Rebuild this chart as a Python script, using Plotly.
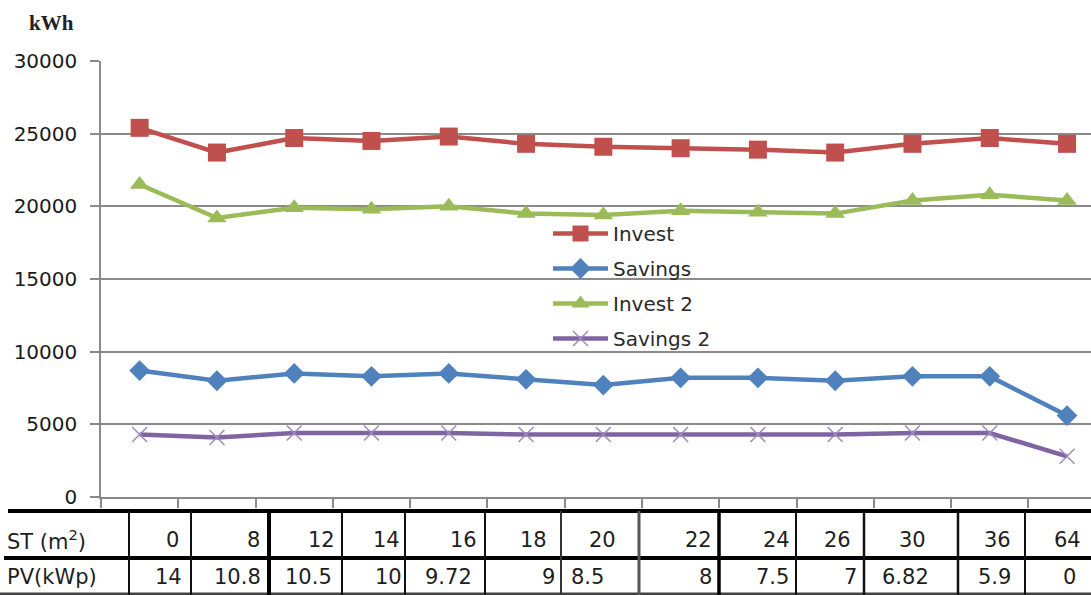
import plotly.graph_objects as go

# ---------------- data ----------------
st_labels = ["0", "8", "12", "14", "16", "18", "20", "22", "24", "26", "30", "36", "64"]
pv_labels = ["14", "10.8", "10.5", "10", "9.72", "9", "8.5", "8", "7.5", "7", "6.82", "5.9", "0"]

invest = [25400, 23700, 24700, 24500, 24800, 24300, 24100, 24000, 23900, 23700, 24300, 24700, 24300]
savings = [8700, 8000, 8500, 8300, 8500, 8100, 7700, 8200, 8200, 8000, 8300, 8300, 5600]
invest2 = [21500, 19200, 19900, 19800, 20000, 19500, 19400, 19700, 19600, 19500, 20400, 20800, 20400]
savings2 = [4300, 4100, 4400, 4400, 4400, 4300, 4300, 4300, 4300, 4300, 4400, 4400, 2800]

y_ticks = [0, 5000, 10000, 15000, 20000, 25000, 30000]
y_tick_text = ["0", "5000", "10000", "15000", "20000", "25000", "30000"]
row_titles = ["ST (m<sup>2</sup>)", "PV(kWp)"]

# ---------------- layout geometry (pixels) ----------------
FW, FH = 1091, 595
L, R, T, B = 101, 0, 61, 98
W, H = FW - L - R, FH - T - B


def px_x(px):
    return (px - L) / W


def px_y(py):
    return (FH - B - py) / H


# text centres of table cells (pixel positions)
st_text_x = [172, 253, 321, 386, 463, 533, 602, 698, 776, 837, 912, 997, 1067]
pv_text_x = [168, 237, 308, 388, 448, 548, 587, 705, 772, 850, 905, 994, 1069]
col_lines = [129, 191, 269, 342, 405, 485, 561, 639, 719, 796, 864, 958, 1025]
col_widths = [2, 2, 4, 2, 2, 2, 2, 3, 3.5, 2, 2.5, 2.5, 2]
col_colors = ["#111", "#111", "#000", "#111", "#111", "#111", "#333", "#555", "#000",
              "#111", "#111", "#111", "#111"]

RED, BLUE, GREEN, PURPLE = "#C0504D", "#4F81BD", "#9BBB59", "#8064A2"
GRID = "#8a8a8a"

fig = go.Figure()

fig.add_trace(go.Scatter(
    x=st_labels, y=invest, name="Invest", mode="lines+markers", legendgroup="a",
    line=dict(color=RED, width=4.5),
    marker=dict(symbol="square", size=18, color=RED)))
fig.add_trace(go.Scatter(
    x=st_labels, y=savings, name="Savings", mode="lines+markers", legendgroup="b",
    line=dict(color=BLUE, width=4.5),
    marker=dict(symbol="diamond", size=16, color=BLUE)))
fig.add_trace(go.Scatter(
    x=st_labels, y=invest2, name="Invest 2", mode="lines+markers", legendgroup="c",
    line=dict(color=GREEN, width=4.5),
    marker=dict(symbol="triangle-up", size=17, color=GREEN)))
fig.add_trace(go.Scatter(
    x=st_labels, y=savings2, name="Savings 2", mode="lines+markers", legendgroup="d",
    line=dict(color=PURPLE, width=4.5),
    marker=dict(symbol="x-thin", size=15, color="#9d8bbf",
                line=dict(color="#9d8bbf", width=1.5))))

fig.update_xaxes(
    type="category", range=[-0.5, 12.31], showgrid=False,
    showline=True, linecolor=GRID, linewidth=1.5,
    ticks="outside", ticklen=9, tickcolor=GRID, tickwidth=1.5,
    tickson="boundaries", showticklabels=False, zeroline=False)
fig.update_yaxes(
    range=[0, 30000], tickmode="array", tickvals=y_ticks, ticktext=y_tick_text,
    showgrid=True, gridcolor=GRID, gridwidth=1.5,
    showline=True, linecolor=GRID, linewidth=1.5,
    ticks="outside", ticklen=9, tickcolor=GRID, tickwidth=1.5,
    ticklabelstandoff=9, zeroline=False,
    tickfont=dict(family="DejaVu Sans", size=20, color="#1a1a1a"))

shapes = []
# table horizontal rules
shapes.append(dict(type="line", xref="paper", yref="paper",
                   x0=px_x(8), x1=px_x(FW + 5), y0=px_y(511), y1=px_y(511),
                   line=dict(color="#000", width=4)))
shapes.append(dict(type="line", xref="paper", yref="paper",
                   x0=px_x(4), x1=px_x(FW + 5), y0=px_y(558), y1=px_y(558),
                   line=dict(color="#000", width=4)))
shapes.append(dict(type="line", xref="paper", yref="paper",
                   x0=px_x(0), x1=px_x(FW + 5), y0=px_y(594), y1=px_y(594),
                   line=dict(color="#444", width=3)))
for cx, cw, cc in zip(col_lines, col_widths, col_colors):
    shapes.append(dict(type="line", xref="paper", yref="paper",
                       x0=px_x(cx), x1=px_x(cx), y0=px_y(511), y1=px_y(596),
                       line=dict(color=cc, width=cw)))

annotations = []
annotations.append(dict(text="<b>kWh</b>", xref="paper", yref="paper",
                        x=px_x(51), y=px_y(23), xanchor="center", yanchor="middle",
                        showarrow=False,
                        font=dict(family="Liberation Serif", size=21, color="#222")))
TABLE_FONT = dict(family="DejaVu Sans", size=21, color="#1e1e1e")
annotations.append(dict(text=row_titles[0], xref="paper", yref="paper",
                        x=px_x(5), y=px_y(540), xanchor="left", yanchor="middle",
                        showarrow=False, font=TABLE_FONT))
annotations.append(dict(text=row_titles[1], xref="paper", yref="paper",
                        x=px_x(5), y=px_y(577), xanchor="left", yanchor="middle",
                        showarrow=False, font=TABLE_FONT))
for lab, tx in zip(st_labels, st_text_x):
    annotations.append(dict(text=lab, xref="paper", yref="paper",
                            x=px_x(tx), y=px_y(540), xanchor="center", yanchor="middle",
                            showarrow=False, font=TABLE_FONT))
for lab, tx in zip(pv_labels, pv_text_x):
    annotations.append(dict(text=lab, xref="paper", yref="paper",
                            x=px_x(tx), y=px_y(577), xanchor="center", yanchor="middle",
                            showarrow=False, font=TABLE_FONT))

fig.update_layout(
    width=FW, height=FH,
    margin=dict(l=L, r=R, t=T, b=B, pad=0),
    paper_bgcolor="white", plot_bgcolor="white",
    showlegend=True,
    legend=dict(x=px_x(548), y=px_y(214), xanchor="left", yanchor="top",
                bgcolor="rgba(0,0,0,0)", borderwidth=0, tracegroupgap=6,
                itemwidth=55,
                font=dict(family="DejaVu Sans", size=20, color="#2a2a2a")),
    shapes=shapes, annotations=annotations,
)

fig.write_html("out.html")
